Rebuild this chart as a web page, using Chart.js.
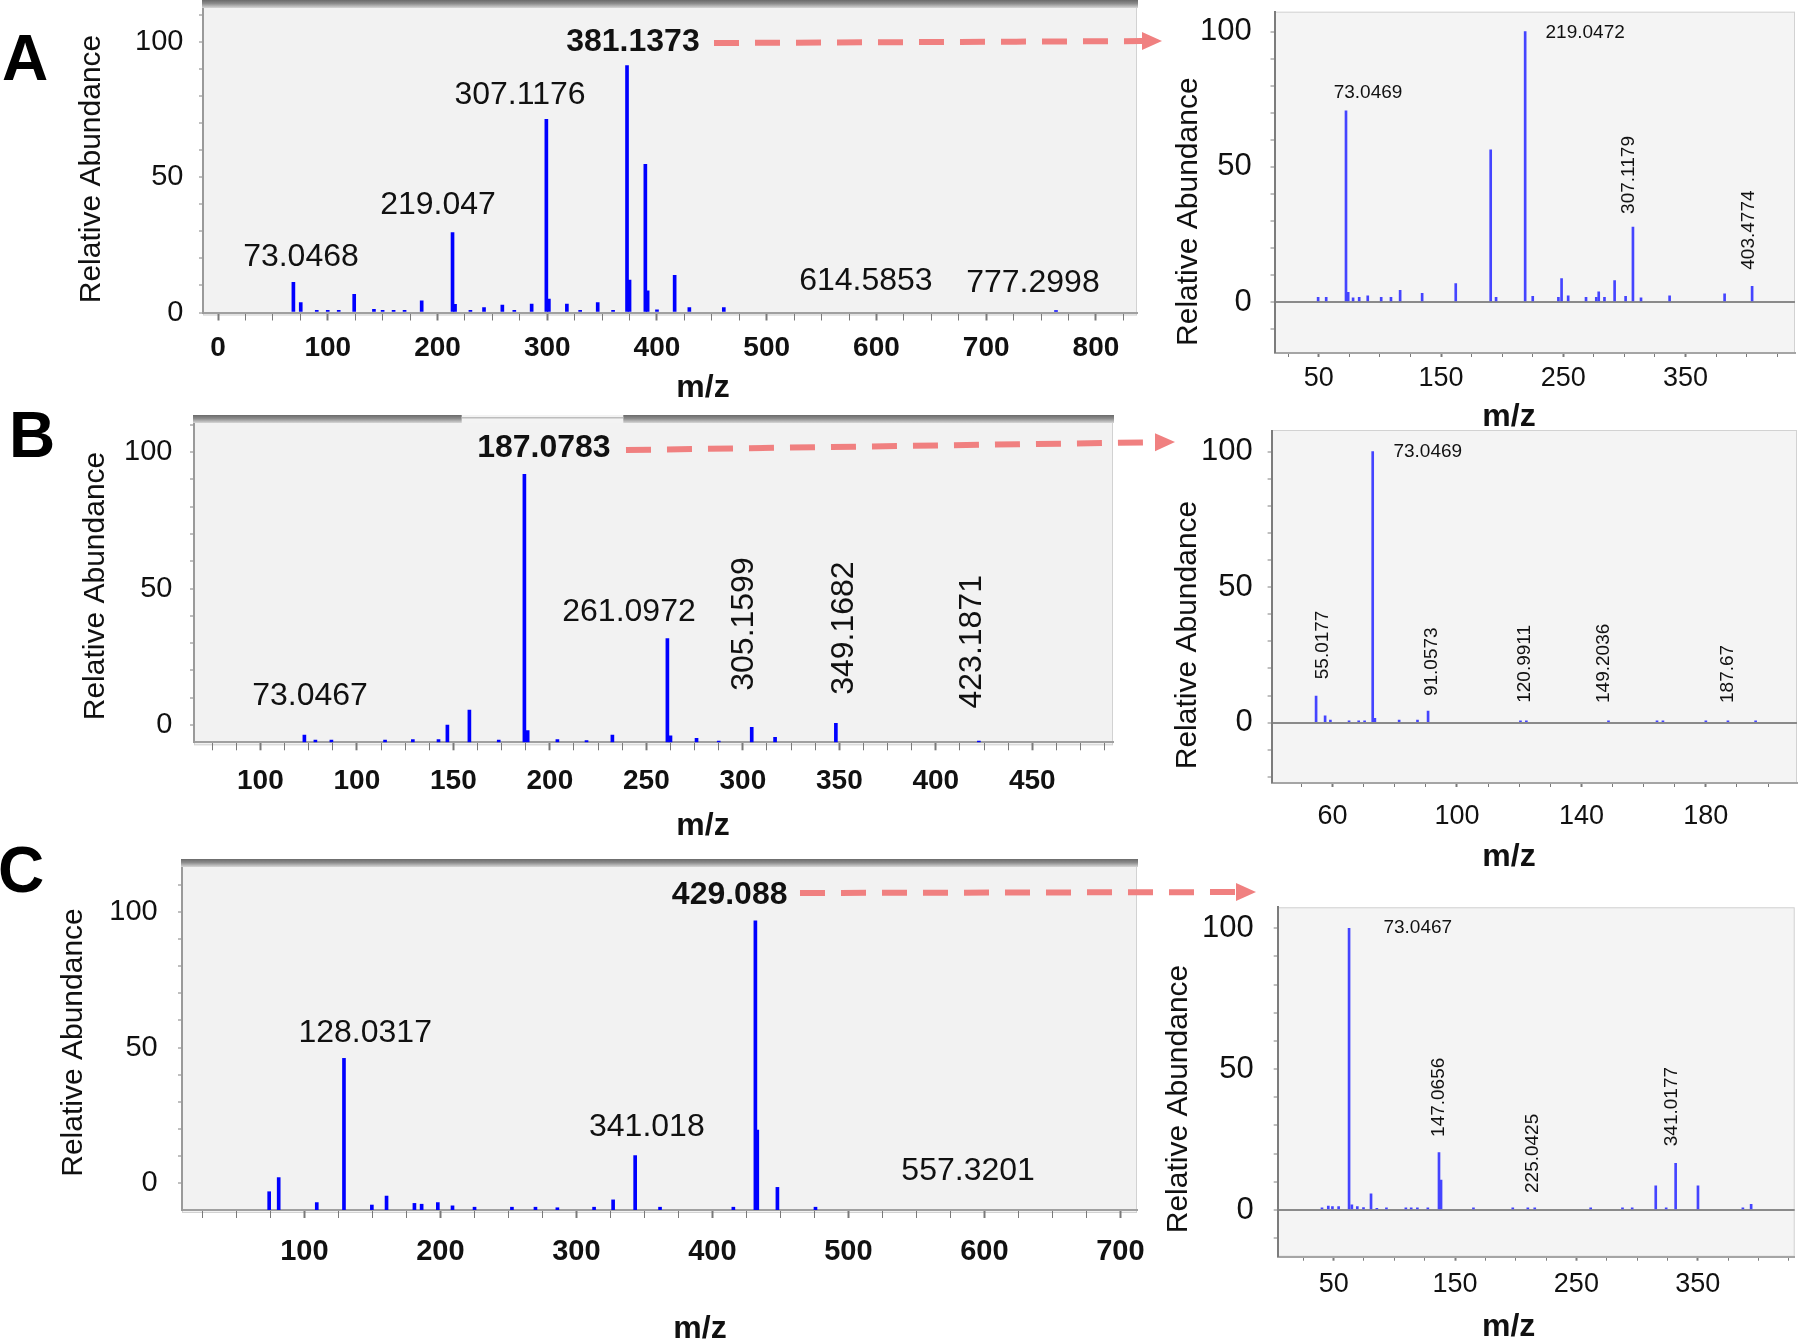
<!DOCTYPE html>
<html><head><meta charset="utf-8">
<script src="https://cdn.jsdelivr.net/npm/chart.js@4/dist/chart.umd.min.js"></script>
<style>
html,body{margin:0;padding:0;background:#fff;}
#wrap{position:relative;width:1800px;height:1341px;overflow:hidden;background:#fff;}
#wrap canvas{position:absolute;}
#overlay{position:absolute;left:0;top:0;}
</style></head><body>
<div id="wrap"></div>
<script>
// ---------------- DATA ----------------
// Panel A, full MS spectrum
const aMainMz = [68.7, 75.4, 90, 100, 110, 124.1, 142.1, 150, 160, 170, 185.6, 213.7, 216, 230, 242.4, 259.1, 270, 285.8, 299.2, 301.5, 317.9, 330, 346, 360, 372.7, 375, 389.4, 391.5, 400, 416.1, 429.5, 460.9, 763.6];
const aMainAb = [11.1, 3.7, 0.8, 0.8, 0.8, 6.7, 1.2, 0.8, 0.8, 0.8, 4.3, 29.5, 3, 0.8, 1.8, 2.7, 0.8, 3.1, 71.3, 5, 3.1, 0.8, 3.7, 0.8, 91.2, 12, 54.7, 8, 1.0, 13.7, 1.8, 1.8, 0.7];
const aMainXTicks = [0, 100, 200, 300, 400, 500, 600, 700, 800];
const aMainXTickText = ['0', '100', '200', '300', '400', '500', '600', '700', '800'];
const aMainLabelText = ['381.1373', '307.1176', '219.047', '73.0468', '614.5853', '777.2998'];
const aMainLabelMz = [378.1, 275.2, 200.5, 75.6, 590.4, 742.6];
const aMainLabelAb = [100, 80.3, 39.7, 20.6, 11.6, 10.8];

// Panel A, MS/MS of 381.1373
const aInsMz = [49.4, 56, 72.2, 74, 78, 83, 90, 101, 109, 116.5, 134.5, 162, 190.6, 195, 218.8, 225, 246, 248.6, 254, 268.6, 277, 279, 283.7, 292, 301, 307, 313.6, 337, 382, 404.5];
const aInsAb = [1.7, 1.7, 70.7, 3.6, 1.5, 1.7, 2.3, 1.7, 1.7, 4.3, 3.2, 6.8, 56.3, 1.7, 100, 2.1, 1.7, 8.7, 2.3, 1.7, 1.7, 3.8, 1.7, 7.9, 2.1, 27.7, 1.5, 2.3, 3, 5.8];
const aInsXTicks = [50, 150, 250, 350];
const aInsXTickText = ['50', '150', '250', '350'];
const aInsLabelText = ['219.0472', '73.0469', '307.1179', '403.4774'];
const aInsLabelMz = [267.9, 90.2, 303.3, 401.7];
const aInsLabelAb = [99.5, 77.3, 47, 26.6];

// Panel B, full MS spectrum
const bMainMz = [72.8, 78.5, 86.8, 114.6, 129, 142.3, 146.9, 158.3, 173.5, 186.8, 188.5, 203.9, 219, 232.4, 260.9, 262.5, 276, 287.5, 304.6, 316.7, 348.2, 422.3];
const bMainAb = [-3.7, -5.5, -5.5, -5.5, -5.3, -5.3, 0, 5.5, -5.5, 91.9, -2, -5.3, -5.7, -3.7, 31.7, -4, -4.9, -5.9, -0.9, -4.5, 0.6, -5.9];
const bMainXTicks = [50, 100, 150, 200, 250, 300, 350, 400, 450];
const bMainXTickText = ['100', '100', '150', '200', '250', '300', '350', '400', '450'];
const bMainLabelText = ['187.0783', '261.0972', '73.0467', '305.1599', '349.1682', '423.1871'];
const bMainLabelMz = [196.9, 241, 75.7, 300.5, 352.3, 418.6];
const bMainLabelAb = [101.4, 41.5, 10.6, 37, 35.5, 30.5];

// Panel B, MS/MS of 187.0783
const bInsMz = [54.7, 57.6, 59.3, 65.3, 68.4, 70.3, 72.9, 73.6, 81.4, 87.3, 90.7, 120.4, 122.3, 148.7, 164.3, 166.2, 180, 187.1, 196];
const bInsAb = [9.8, 2.5, 1, 0.7, 0.7, 0.7, 100, 1.6, 1, 1, 4.3, 0.7, 0.7, 0.7, 0.7, 0.7, 0.7, 0.7, 0.7];
const bInsXTicks = [60, 100, 140, 180];
const bInsXTickText = ['60', '100', '140', '180'];
const bInsLabelText = ['73.0469', '55.0177', '91.0573', '120.9911', '149.2036', '187.67'];
const bInsLabelMz = [90.6, 57, 91.9, 121.9, 147.3, 187];
const bInsLabelAb = [99.8, 28.7, 22.5, 21.7, 21.9, 18];

// Panel C, full MS spectrum
const cMainMz = [74.1, 81.1, 109.1, 129.1, 149.6, 160.4, 180.9, 186.2, 198.1, 208.9, 225.1, 252.6, 269.9, 286, 313, 327, 343.2, 361.5, 415.4, 431.6, 433, 447.8, 475.8];
const cMainAb = [-3.1, 2.1, -7.1, 46, -8, -4.7, -7.4, -7.7, -7.1, -8.3, -8.8, -8.8, -8.8, -9, -8.8, -6.1, 10.2, -8.8, -8.8, 96.6, 19.6, -1.5, -8.8];
const cMainXTicks = [100, 200, 300, 400, 500, 600, 700];
const cMainXTickText = ['100', '200', '300', '400', '500', '600', '700'];
const cMainLabelText = ['429.088', '128.0317', '341.018', '557.3201'];
const cMainLabelMz = [412.7, 144.7, 351.8, 588];
const cMainLabelAb = [106.1, 55.4, 20.6, 4.3];

// Panel C, MS/MS of 429.088
const cInsMz = [40.4, 45.6, 49, 54.1, 62.7, 65, 69.5, 74.6, 80.8, 85.6, 93.5, 109.5, 113.9, 119, 127.6, 136.8, 138.5, 165.2, 197.6, 210, 215.7, 261.8, 288, 296, 315.4, 324, 331.8, 350.2, 387.2, 394];
const cInsAb = [0.8, 1.4, 1.2, 1.2, 100, 1.8, 1.2, 0.9, 5.7, 0.6, 0.8, 0.8, 0.8, 0.8, 0.8, 20.4, 10.6, 0.8, 0.8, 0.8, 0.8, 0.8, 0.8, 0.8, 8.6, 0.8, 16.6, 8.6, 0.8, 2];
const cInsXTicks = [50, 150, 250, 350];
const cInsXTickText = ['50', '150', '250', '350'];
const cInsLabelText = ['73.0467', '147.0656', '225.0425', '341.0177'];
const cInsLabelMz = [119.3, 136.8, 213.7, 328.4];
const cInsLabelAb = [100.3, 40, 20.1, 36.7];

const yTickValues = [0, 50, 100];
const yTitleText = 'Relative Abundance';
const xTitleText = 'm/z';

// ---------------- DRAWING ----------------
const FONT = "'Liberation Sans', Arial, Helvetica, sans-serif";
const wrap = document.getElementById('wrap');

function makePanel(p) {
  const [cx, cy, cw, ch] = p.canvas;
  const [L, T, R, B] = p.area;
  const cv = document.createElement('canvas');
  cv.width = cw; cv.height = ch;
  cv.style.left = cx + 'px'; cv.style.top = cy + 'px';
  cv.style.width = cw + 'px'; cv.style.height = ch + 'px';
  wrap.appendChild(cv);
  const yW = L - cx, xH = cy + ch - B;
  const xMap = new Map(p.xTicks.map((v, i) => [v, p.xTickText[i]]));

  const deco = {
    id: 'deco',
    beforeDraw(chart) {
      const {ctx, chartArea: a} = chart;
      ctx.save();
      ctx.fillStyle = p.bg;
      ctx.fillRect(a.left, a.top, a.right - a.left, a.bottom - a.top + p.bgExtra);
      ctx.strokeStyle = '#d2d2d2'; ctx.lineWidth = 1;
      ctx.strokeRect(a.left + 0.5, a.top + 0.5, a.right - a.left - 1, a.bottom - a.top - 1 + p.bgExtra);
      ctx.restore();
    },
    afterDatasetsDraw(chart) {
      const {ctx} = chart;
      const xs = chart.scales.x, ys = chart.scales.y;
      p.labText.forEach((t, i) => {
        const st = p.labStyle[i];
        const px = xs.getPixelForValue(p.labMz[i]);
        const py = ys.getPixelForValue(p.labAb[i]);
        ctx.save();
        ctx.translate(px, py);
        if (st === 'r') ctx.rotate(-Math.PI / 2);
        ctx.font = (st === 'b' ? 'bold ' : '') + p.labFont + 'px ' + FONT;
        ctx.textAlign = 'center'; ctx.textBaseline = 'middle';
        ctx.fillStyle = '#111';
        ctx.fillText(t, 0, 0);
        ctx.restore();
      });
    },
    afterDraw(chart) {
      const {ctx, chartArea: a} = chart;
      ctx.save();
      if (p.band) {
        const g = ctx.createLinearGradient(0, a.top - 3, 0, a.top + 5);
        g.addColorStop(0, '#6a6a6a'); g.addColorStop(0.45, '#8c8c8c'); g.addColorStop(1, '#d6d6d6');
        ctx.fillStyle = g;
        ctx.fillRect(a.left - 1, a.top - 3, a.right - a.left + 2, 8);
        if (p.bandGap) {
          const g0 = p.bandGap[0] - cx, g1 = p.bandGap[1] - cx;
          ctx.fillStyle = '#f3f3f3';
          ctx.fillRect(g0, a.top - 3, g1 - g0, 8);
          ctx.fillStyle = '#bdbdbd';
          ctx.fillRect(g0, a.top - 1, g1 - g0, 1.5);
        }
      }
      // y title
      ctx.fillStyle = '#111';
      ctx.font = p.yTitleFont + 'px ' + FONT;
      ctx.textAlign = 'center'; ctx.textBaseline = 'middle';
      ctx.translate(p.yTitlePos[0] - cx, p.yTitlePos[1] - cy);
      ctx.rotate(-Math.PI / 2);
      ctx.fillText(yTitleText, 0, 0);
      ctx.restore();
      ctx.save();
      ctx.fillStyle = '#111';
      ctx.font = 'bold ' + p.xTitleFont + 'px ' + FONT;
      ctx.textAlign = 'center'; ctx.textBaseline = 'middle';
      ctx.fillText(xTitleText, p.xTitlePos[0] - cx, p.xTitlePos[1] - cy);
      ctx.restore();
    }
  };

  new Chart(cv, {
    type: 'bar',
    data: {
      datasets: [{
        data: p.mz.map((m, i) => ({x: m, y: p.ab[i]})),
        backgroundColor: p.color,
        borderWidth: 0,
        barThickness: p.barW,
        base: p.base
      }]
    },
    options: {
      responsive: false, maintainAspectRatio: false, animation: false, events: [],
      devicePixelRatio: 1,
      layout: {padding: {left: 0, top: T - cy, right: cx + cw - R, bottom: 0}, autoPadding: false},
      plugins: {legend: {display: false}, tooltip: {enabled: false}, title: {display: false}},
      scales: {
        x: {
          type: 'linear', min: p.xMin, max: p.xMax, offset: false,
          grid: {offset: false, drawOnChartArea: false, drawTicks: true, tickLength: p.xTickLen,
                 tickColor: '#7a7a7a', tickWidth: c => (c.tick && xMap.has(c.tick.value)) ? 2 : 1},
          border: {display: true, color: p.xBorder, width: 2},
          ticks: {
            stepSize: p.xStep, autoSkip: false, maxRotation: 0, minRotation: 0, includeBounds: false,
            padding: p.xPad, color: '#111',
            font: {family: FONT, size: p.xFont, weight: p.xBold ? 'bold' : 'normal'},
            callback: v => xMap.has(v) ? xMap.get(v) : ''
          },
          afterFit: s => { s.height = xH; s.paddingLeft = 0; s.paddingRight = 0; }
        },
        y: {
          type: 'linear', min: p.yMin, max: p.yMax,
          grid: {
            drawOnChartArea: p.inset, drawTicks: true, tickLength: 4,
            color: c => (c.tick && c.tick.value === 0) ? '#8a8a8a' : 'rgba(0,0,0,0)',
            lineWidth: c => (c.tick && c.tick.value === 0) ? 2 : 0,
            tickColor: '#808080', tickWidth: 1
          },
          border: {display: true, color: p.yBorder, width: 2},
          ticks: {
            stepSize: 10, autoSkip: false, includeBounds: false, padding: p.yPad, color: '#111',
            font: {family: FONT, size: p.yFont},
            callback: v => yTickValues.includes(v) ? String(v) : ''
          },
          afterFit: s => { s.width = yW; s.paddingTop = 0; s.paddingBottom = 0; }
        }
      }
    },
    plugins: [deco]
  });
}

const mainStyle = {bg: '#f2f2f2', bgExtra: 3, band: true, color: '#0000ff', barW: 3, inset: false,
  xTickLen: 8, xBold: true, xBorder: '#a0a0a0', yBorder: '#9a9a9a', yFont: 29, labFont: 32,
  yTitleFont: 30, xTitleFont: 32};
const insStyle = {bg: '#f4f4f4', bgExtra: 0, band: false, color: '#4444ff', barW: 2, inset: true,
  xTickLen: 4, xBold: false, xFont: 27, xBorder: '#a5a5a5', yBorder: '#7c7c7c', yFont: 31, labFont: 19,
  yTitleFont: 30, xTitleFont: 32, base: 0};

const panels = [
  Object.assign({}, mainStyle, {
    canvas: [0, 0, 1150, 405], area: [203, 3, 1137, 312.5],
    xMin: -13.67, xMax: 837.4, xStep: 25, xFont: 28, xPad: 10.7, yMin: 0, yMax: 114.3, yPad: 15.6, base: 0,
    mz: aMainMz, ab: aMainAb, xTicks: aMainXTicks, xTickText: aMainXTickText,
    labText: aMainLabelText, labMz: aMainLabelMz, labAb: aMainLabelAb, labStyle: ['b', 'n', 'n', 'n', 'n', 'n'],
    yTitlePos: [91.7, 169], xTitlePos: [703, 388]
  }),
  Object.assign({}, insStyle, {
    canvas: [1150, 0, 650, 430], area: [1274.5, 11.7, 1795, 353],
    xMin: 13.7, xMax: 439.6, xStep: 25, xPad: 5.8, yMin: -18.87, yMax: 107.4, yPad: 18.8,
    mz: aInsMz, ab: aInsAb, xTicks: aInsXTicks, xTickText: aInsXTickText,
    labText: aInsLabelText, labMz: aInsLabelMz, labAb: aInsLabelAb, labStyle: ['n', 'n', 'r', 'r'],
    yTitlePos: [1188.6, 211.7], xTitlePos: [1509, 417]
  }),
  Object.assign({}, mainStyle, {
    canvas: [0, 405, 1150, 435], area: [194, 418, 1113, 742.3], bandGap: [461.7, 623.3],
    xMin: 15.6, xMax: 491.8, xStep: 12.5, xFont: 28, xPad: 13.9, yMin: -6.34, yMax: 112.5, yPad: 17.6, base: -6.34,
    mz: bMainMz, ab: bMainAb, xTicks: bMainXTicks, xTickText: bMainXTickText,
    labText: bMainLabelText, labMz: bMainLabelMz, labAb: bMainLabelAb, labStyle: ['b', 'n', 'n', 'r', 'r', 'r'],
    yTitlePos: [95.3, 586], xTitlePos: [703, 826]
  }),
  Object.assign({}, insStyle, {
    canvas: [1150, 430, 650, 440], area: [1271.6, 430, 1797, 783],
    xMin: 40.4, xMax: 209.3, xStep: 10, xPad: 13.8, yMin: -22.25, yMax: 108, yPad: 14.8,
    mz: bInsMz, ab: bInsAb, xTicks: bInsXTicks, xTickText: bInsXTickText,
    labText: bInsLabelText, labMz: bInsLabelMz, labAb: bInsLabelAb, labStyle: ['n', 'r', 'r', 'r', 'r', 'r'],
    yTitlePos: [1187.5, 635], xTitlePos: [1509, 857]
  }),
  Object.assign({}, mainStyle, {
    canvas: [0, 840, 1150, 501], area: [182, 862, 1137, 1210],
    xMin: 10, xMax: 712.2, xStep: 25, xFont: 29, xPad: 16.9, yMin: -9.83, yMax: 118.3, yPad: 20.3, base: -9.83,
    mz: cMainMz, ab: cMainAb, xTicks: cMainXTicks, xTickText: cMainXTickText,
    labText: cMainLabelText, labMz: cMainLabelMz, labAb: cMainLabelAb, labStyle: ['b', 'n', 'n', 'n'],
    yTitlePos: [73.3, 1042.5], xTitlePos: [700, 1329]
  }),
  Object.assign({}, insStyle, {
    canvas: [1150, 870, 650, 471], area: [1277.7, 907.3, 1794.7, 1256.7],
    xMin: 3.9, xMax: 429.9, xStep: 25, xPad: 8.1, yMin: -16.58, yMax: 107.45, yPad: 20,
    mz: cInsMz, ab: cInsAb, xTicks: cInsXTicks, xTickText: cInsXTickText,
    labText: cInsLabelText, labMz: cInsLabelMz, labAb: cInsLabelAb, labStyle: ['n', 'r', 'r', 'r'],
    yTitlePos: [1179, 1099], xTitlePos: [1508.6, 1327]
  })
];
panels.forEach(makePanel);

// overlay: panel letters and dashed arrows
const NS = 'http://www.w3.org/2000/svg';
const svg = document.createElementNS(NS, 'svg');
svg.setAttribute('id', 'overlay');
svg.setAttribute('width', '1800'); svg.setAttribute('height', '1341');
wrap.appendChild(svg);
function el(tag, attrs, text) {
  const e = document.createElementNS(NS, tag);
  for (const k in attrs) e.setAttribute(k, attrs[k]);
  if (text) e.textContent = text;
  svg.appendChild(e);
  return e;
}
[['A', 25, 58], ['B', 32, 435], ['C', 21, 870]].forEach(([t, x, y]) => {
  el('text', {x, y, 'text-anchor': 'middle', 'dominant-baseline': 'central',
    'font-family': FONT, 'font-weight': 'bold', 'font-size': 64, fill: '#000'}, t);
});
[[714, 43, 1162, 41], [626, 450, 1175, 442], [800, 893, 1256, 892]].forEach(([x1, y1, x2, y2]) => {
  const hx = x2 - 20;
  const hy = y1 + (y2 - y1) * (hx - x1) / (x2 - x1);
  el('line', {x1, y1, x2: hx, y2: hy, stroke: '#f08080', 'stroke-width': 6, 'stroke-dasharray': '25 16'});
  el('polygon', {points: `${x2},${y2} ${hx},${hy - 9} ${hx},${hy + 9}`, fill: '#f08080'});
});
</script>
</body></html>
